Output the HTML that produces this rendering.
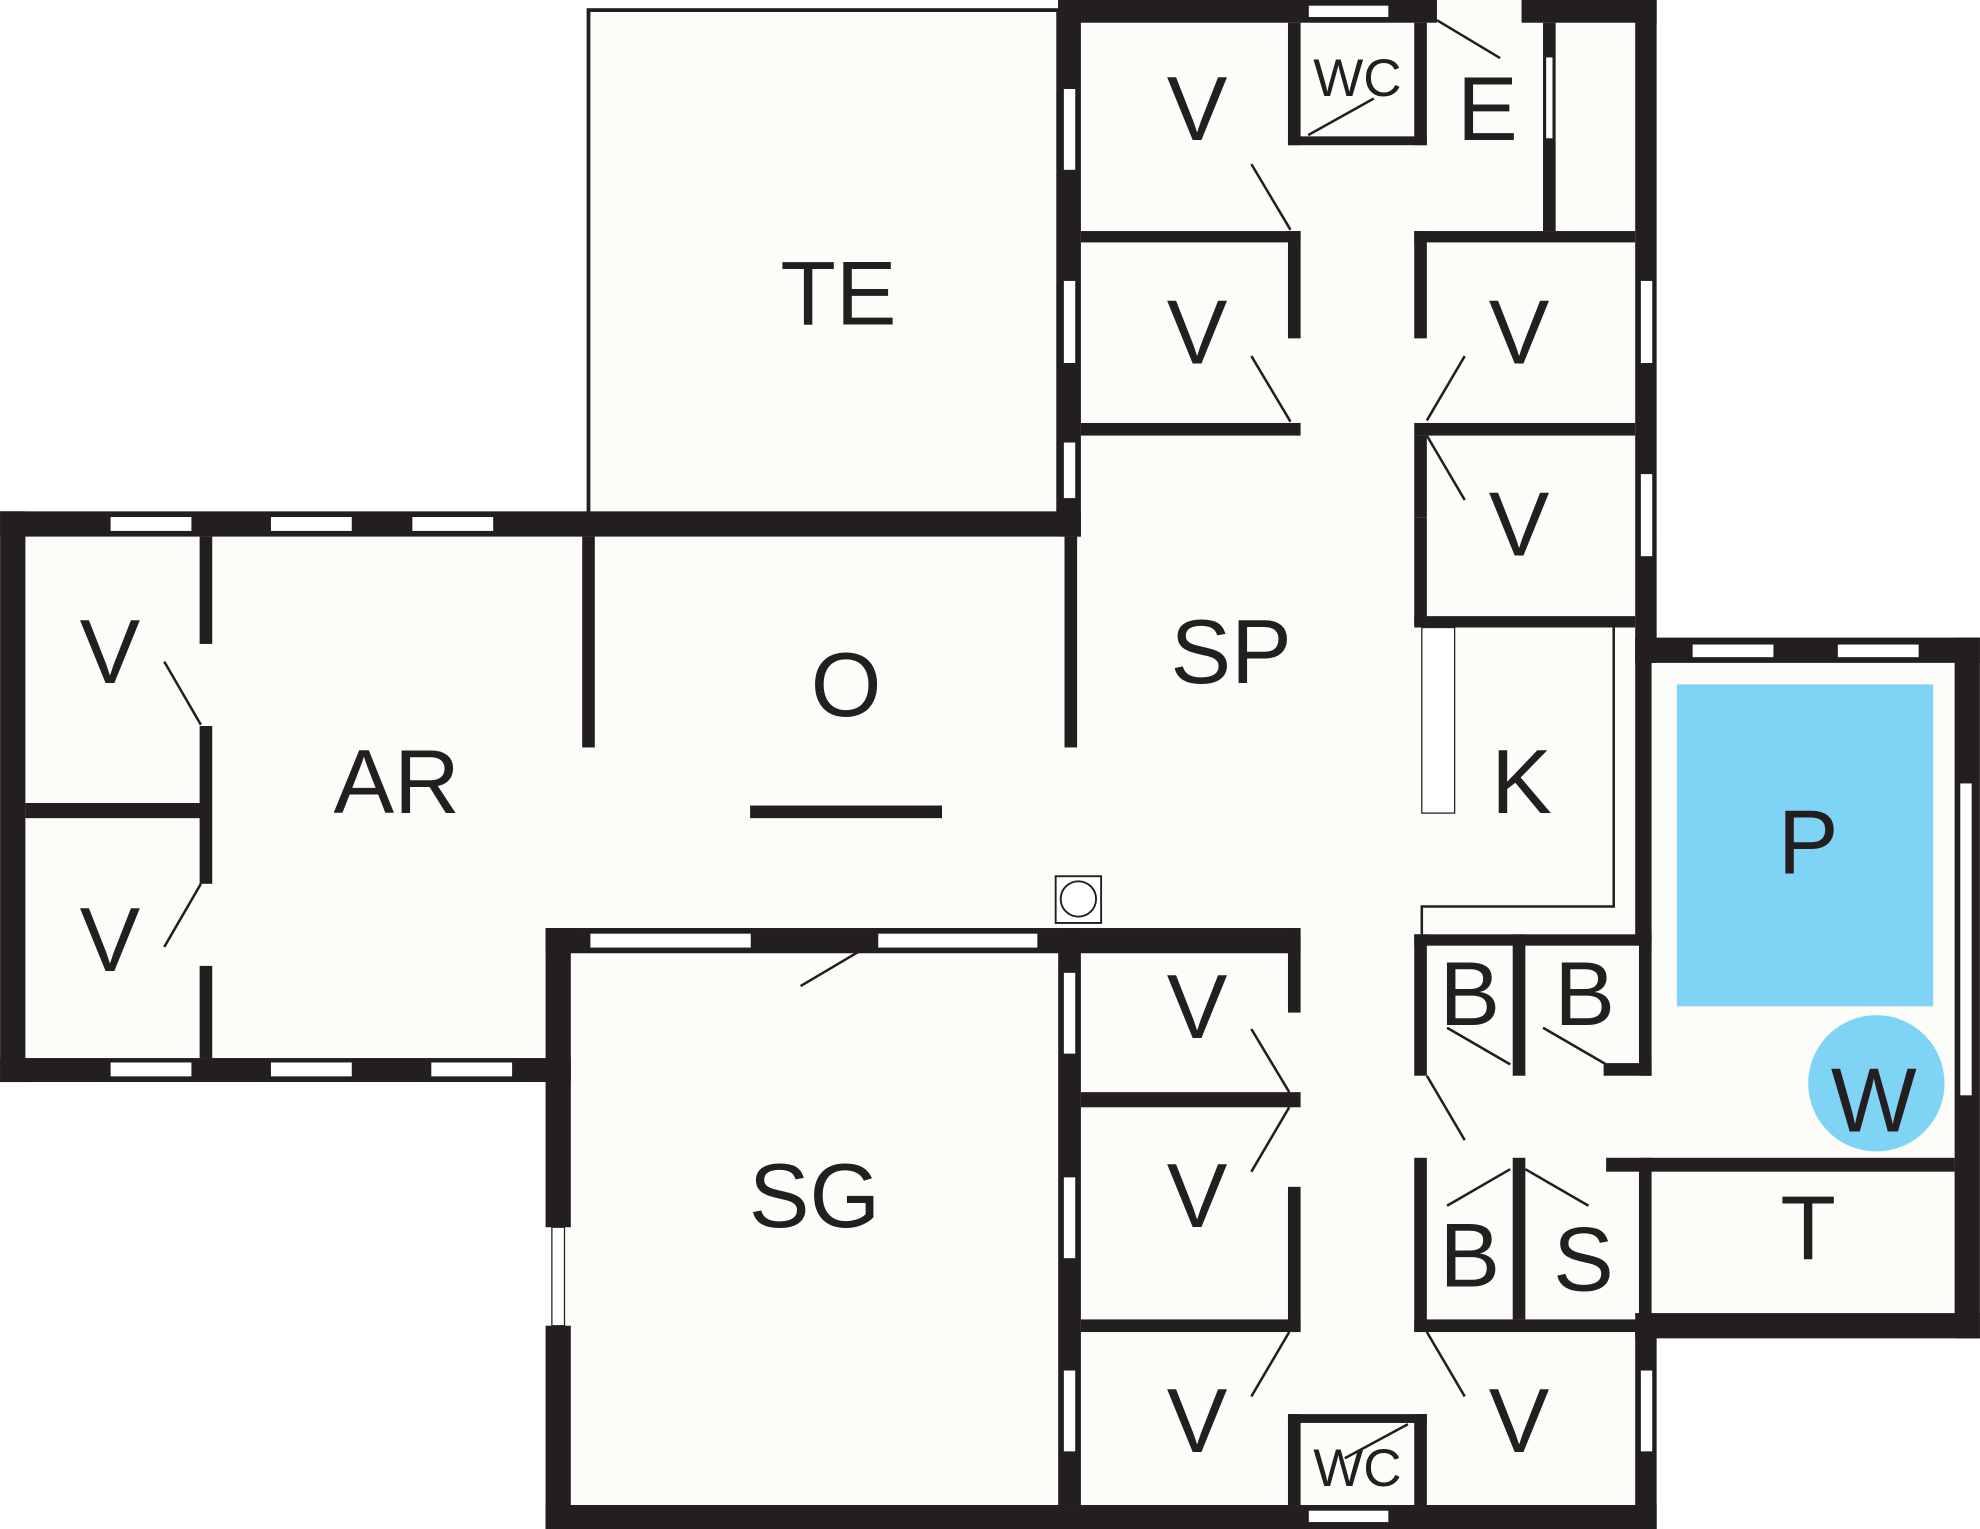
<!DOCTYPE html>
<html><head><meta charset="utf-8"><style>html,body{margin:0;padding:0;background:#fff}svg{display:block}</style></head><body>
<svg width="1980" height="1529" viewBox="0 0 1568 1211" xmlns="http://www.w3.org/2000/svg">
<g fill="#fcfcf8">
<rect x="466" y="8" width="372" height="400"/>
<rect x="838" y="0" width="474" height="525"/>
<rect x="0" y="405" width="856" height="452"/>
<rect x="432" y="735" width="880" height="476"/>
<rect x="856" y="425" width="456" height="315"/>
<rect x="1295" y="505" width="273" height="555"/>
</g>
<rect x="466" y="8" width="372" height="400" fill="none" stroke="#231f20" stroke-width="3"/>
<g fill="#231f20">
<!-- top block -->
<rect x="838" y="0" width="300" height="18"/>
<rect x="1205" y="0" width="107" height="18"/>
<rect x="1295" y="0" width="17" height="525"/>
<rect x="838" y="0" width="18" height="425"/>
<rect x="856" y="183" width="174" height="9"/>
<rect x="856" y="335" width="174" height="10"/>
<rect x="1020" y="18" width="10" height="97"/>
<rect x="1120" y="18" width="10" height="97"/>
<rect x="1020" y="108" width="110" height="7"/>
<rect x="1020" y="183" width="10" height="85"/>
<rect x="1222" y="18" width="10" height="165"/>
<rect x="1120" y="183" width="175" height="9"/>
<rect x="1120" y="335" width="175" height="10"/>
<rect x="1120" y="488" width="175" height="9"/>
<rect x="1120" y="183" width="10" height="85"/>
<rect x="1120" y="345" width="10" height="65"/>
<rect x="1120" y="410" width="10" height="85"/>
<!-- left wing -->
<rect x="0" y="405" width="856" height="20"/>
<rect x="0" y="405" width="20" height="452"/>
<rect x="0" y="838" width="452" height="19"/>
<rect x="20" y="636" width="140" height="12"/>
<rect x="158" y="425" width="10" height="85"/>
<rect x="158" y="575" width="10" height="125"/>
<rect x="158" y="765" width="10" height="73"/>
<rect x="461" y="425" width="10" height="167"/>
<rect x="843" y="425" width="10" height="167"/>
<rect x="594" y="638" width="152" height="10"/>
<!-- SG block -->
<rect x="432" y="735" width="598" height="20"/>
<rect x="432" y="735" width="20" height="237"/>
<rect x="432" y="1050" width="20" height="161"/>
<rect x="432" y="1192" width="880" height="19"/>
<rect x="838" y="740" width="18" height="452"/>
<rect x="856" y="865" width="174" height="12"/>
<rect x="856" y="1045" width="174" height="10"/>
<rect x="1020" y="740" width="10" height="62"/>
<rect x="1020" y="940" width="10" height="115"/>
<rect x="1020" y="1120" width="10" height="72"/>
<rect x="1120" y="1120" width="10" height="72"/>
<rect x="1020" y="1120" width="110" height="7"/>
<!-- right column -->
<rect x="1120" y="740" width="188" height="9"/>
<rect x="1120" y="740" width="10" height="112"/>
<rect x="1198" y="740" width="10" height="112"/>
<rect x="1298" y="740" width="10" height="112"/>
<rect x="1270" y="842" width="38" height="10"/>
<rect x="1120" y="917" width="10" height="138"/>
<rect x="1198" y="917" width="10" height="128"/>
<rect x="1120" y="1045" width="192" height="10"/>
<rect x="1295" y="1045" width="17" height="166"/>
<rect x="1298" y="917" width="10" height="128"/>
<!-- pool -->
<rect x="1295" y="505" width="273" height="20"/>
<rect x="1295" y="505" width="13" height="240"/>
<rect x="1548" y="505" width="20" height="555"/>
<rect x="1272" y="917" width="276" height="11"/>
<rect x="1295" y="1040" width="273" height="20"/>
</g>
<!-- windows -->
<g fill="#fff" stroke="#231f20" stroke-width="1">
<rect x="1036" y="4" width="64" height="10"/>
<rect x="842" y="70" width="10" height="65"/>
<rect x="842" y="222" width="10" height="66"/>
<rect x="842" y="350" width="10" height="45"/>
<rect x="1299" y="222" width="10" height="66"/>
<rect x="1299" y="375" width="10" height="66"/>
<rect x="1224" y="45" width="6" height="65"/>
<rect x="87" y="409" width="65" height="12"/>
<rect x="214" y="409" width="65" height="12"/>
<rect x="326" y="409" width="65" height="12"/>
<rect x="87" y="841" width="65" height="12"/>
<rect x="214" y="841" width="65" height="12"/>
<rect x="341" y="841" width="65" height="12"/>
<rect x="467" y="739" width="128" height="12"/>
<rect x="695" y="739" width="127" height="12"/>
<rect x="437" y="972" width="10" height="78"/>
<rect x="842" y="770" width="10" height="65"/>
<rect x="842" y="932" width="10" height="65"/>
<rect x="842" y="1085" width="10" height="65"/>
<rect x="1299" y="1085" width="10" height="65"/>
<rect x="1036" y="1196" width="64" height="10"/>
<rect x="1340" y="510" width="65" height="11"/>
<rect x="1455" y="510" width="65" height="11"/>
<rect x="1552" y="620" width="10" height="248"/>
<rect x="1126" y="497" width="26" height="147"/>
</g>
<rect x="1548" y="617" width="20" height="0" />
<!-- K thin line -->
<polyline points="1278,497 1278,718 1126,718 1126,740" fill="none" stroke="#231f20" stroke-width="2"/>
<!-- pool & whirlpool -->
<rect x="1328" y="542" width="203" height="255" fill="#7fd4f6"/>
<circle cx="1486" cy="858" r="54" fill="#7fd4f6"/>
<!-- chimney symbol -->
<rect x="836" y="694" width="36" height="37" fill="#fff" stroke="#231f20" stroke-width="1.5"/>
<circle cx="854" cy="712" r="14" fill="none" stroke="#231f20" stroke-width="1.5"/>
<!-- door swings -->
<g stroke="#231f20" stroke-width="2" fill="none">
<line x1="991" y1="130" x2="1022" y2="182"/>
<line x1="991" y1="282" x2="1022" y2="334"/>
<line x1="1036" y1="107" x2="1088" y2="78"/>
<line x1="1138" y1="16" x2="1188" y2="46"/>
<line x1="1130" y1="333" x2="1160" y2="282"/>
<line x1="1130" y1="345" x2="1160" y2="396"/>
<line x1="130" y1="524" x2="159" y2="574"/>
<line x1="130" y1="750" x2="159" y2="700"/>
<line x1="634" y1="781" x2="683" y2="752"/>
<line x1="991" y1="815" x2="1021" y2="865"/>
<line x1="991" y1="928" x2="1021" y2="877"/>
<line x1="991" y1="1106" x2="1021" y2="1055"/>
<line x1="1065" y1="1155" x2="1115" y2="1128"/>
<line x1="1130" y1="1055" x2="1160" y2="1106"/>
<line x1="1146" y1="814" x2="1196" y2="843"/>
<line x1="1222" y1="814" x2="1272" y2="843"/>
<line x1="1130" y1="852" x2="1160" y2="903"/>
<line x1="1146" y1="955" x2="1196" y2="926"/>
<line x1="1208" y1="926" x2="1258" y2="955"/>
</g>
<!-- labels -->
<g font-family="Liberation Sans, sans-serif" fill="#231f20" text-anchor="middle" font-size="72">
<text x="664" y="257">TE</text>
<text x="948" y="111">V</text>
<text x="948" y="288">V</text>
<text x="1178" y="111">E</text>
<text x="1203" y="288">V</text>
<text x="1203" y="440">V</text>
<text x="975" y="541">SP</text>
<text x="1205" y="644">K</text>
<text x="670" y="567">O</text>
<text x="314" y="644">AR</text>
<text x="87" y="541">V</text>
<text x="87" y="769">V</text>
<text x="1432" y="692">P</text>
<text x="1484" y="896">W</text>
<text x="1164" y="812">B</text>
<text x="1255" y="812">B</text>
<text x="1164" y="1019">B</text>
<text x="1254" y="1022">S</text>
<text x="1432" y="997">T</text>
<text x="645" y="972">SG</text>
<text x="948" y="822">V</text>
<text x="948" y="972">V</text>
<text x="948" y="1150">V</text>
<text x="1203" y="1150">V</text>
<text x="1075" y="76" font-size="42">WC</text>
<text x="1075" y="1177" font-size="42">WC</text>
</g>
</svg>
</body></html>
